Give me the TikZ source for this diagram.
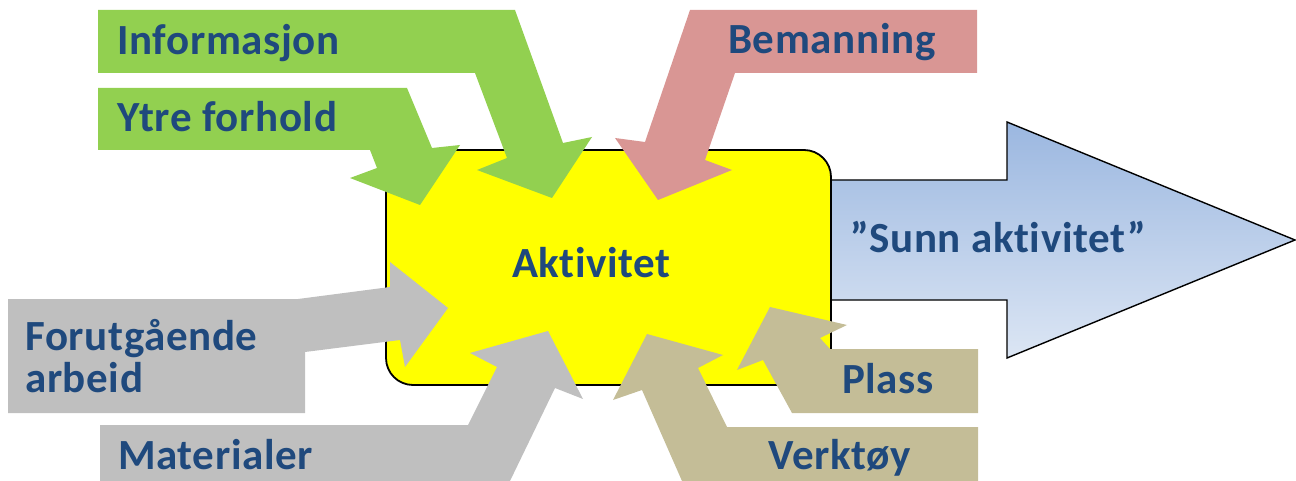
\documentclass[tikz,border=0pt]{standalone}
\usepackage{fontspec}
\setmainfont{Carlito}[Ligatures=CommonOff, LetterSpace=1.5]
\usetikzlibrary{shadings}
\definecolor{txtblue}{HTML}{1F497D}
\definecolor{ingreen}{HTML}{92D050}
\definecolor{inpink}{HTML}{D99694}
\definecolor{ingray}{HTML}{BFBFBF}
\definecolor{intan}{HTML}{C4BD97}
\definecolor{outtop}{HTML}{9BB7E0}
\definecolor{outbot}{HTML}{DCE6F4}
\definecolor{boxyellow}{HTML}{FFFF00}
\begin{document}
\begin{tikzpicture}[x=1pt,y=-1pt,
  label/.style={font=\fontsize{43}{43}\selectfont\bfseries, text=txtblue, inner sep=0pt}]
\useasboundingbox (0,0) rectangle (1296,481);

% output arrow (drawn first, the box covers its root)
\shade[top color=outtop, bottom color=outbot, draw=black, line width=1.4pt, line join=miter]
  (820,180) -- (1007,180) -- (1007,122) -- (1295,240) -- (1007,358) -- (1007,300) -- (820,300) -- cycle;

% the activity box
\draw[fill=boxyellow, draw=black, line width=1.8pt, rounded corners=27pt]
  (386,150) rectangle (831,385);

% incoming arrows
\fill[ingreen] (98,10) -- (515,10) -- (563,143) -- (592,137) -- (552,198) -- (477,170) -- (507,158) -- (475,73) -- (98,73) -- cycle;
\fill[ingreen] (98,88) -- (407,88) -- (432,148) -- (460,145) -- (420,205) -- (350,178) -- (377,168) -- (370,150) -- (98,150) -- cycle;
\fill[inpink] (977,10) -- (690,10) -- (645,142) -- (615,138) -- (658,200) -- (732,170) -- (705,160) -- (735,73) -- (977,73) -- cycle;
\fill[ingray] (8,299) -- (298,299) -- (390,287) -- (390,262) -- (448,308) -- (405,367) -- (400,340) -- (305,352) -- (305,413) -- (8,413) -- cycle;
\fill[ingray] (100,481) -- (100,425) -- (468,425) -- (497,367) -- (470,353) -- (548,331) -- (583,399) -- (555,388) -- (510,481) -- cycle;
\fill[intan] (978,481) -- (978,427) -- (727,427) -- (698,368) -- (723,355) -- (647,334) -- (613,400) -- (642,390) -- (682,481) -- cycle;
\fill[intan] (978,349) -- (830,349) -- (820,338) -- (847,325) -- (770,307) -- (737,370) -- (763,360) -- (792,413) -- (978,413) -- cycle;

% labels
\node[label, anchor=base west] (info) at (117,55) {Informasjon};
\node[label, anchor=base west] (ytre) at (117,132) {Ytre forhold};
\node[label, anchor=base west] (beman) at (728,54) {Bemanning};
\node[label, anchor=base west] (forut) at (25,350) {Forutgående};
\node[label, anchor=base west] (arbeid) at (25,392) {arbeid};
\node[label, anchor=base west] (mat) at (118,469) {Materialer};
\node[label, anchor=base west] (verk) at (768,469) {Verktøy};
\node[label, anchor=base west] (plass) at (842,393) {Plass};
\node[label, anchor=base west] (akt) at (512,277) {Aktivitet};
\node[label, anchor=base west] (sunn) at (850,252) {”Sunn aktivitet”};
\end{tikzpicture}
\end{document}
